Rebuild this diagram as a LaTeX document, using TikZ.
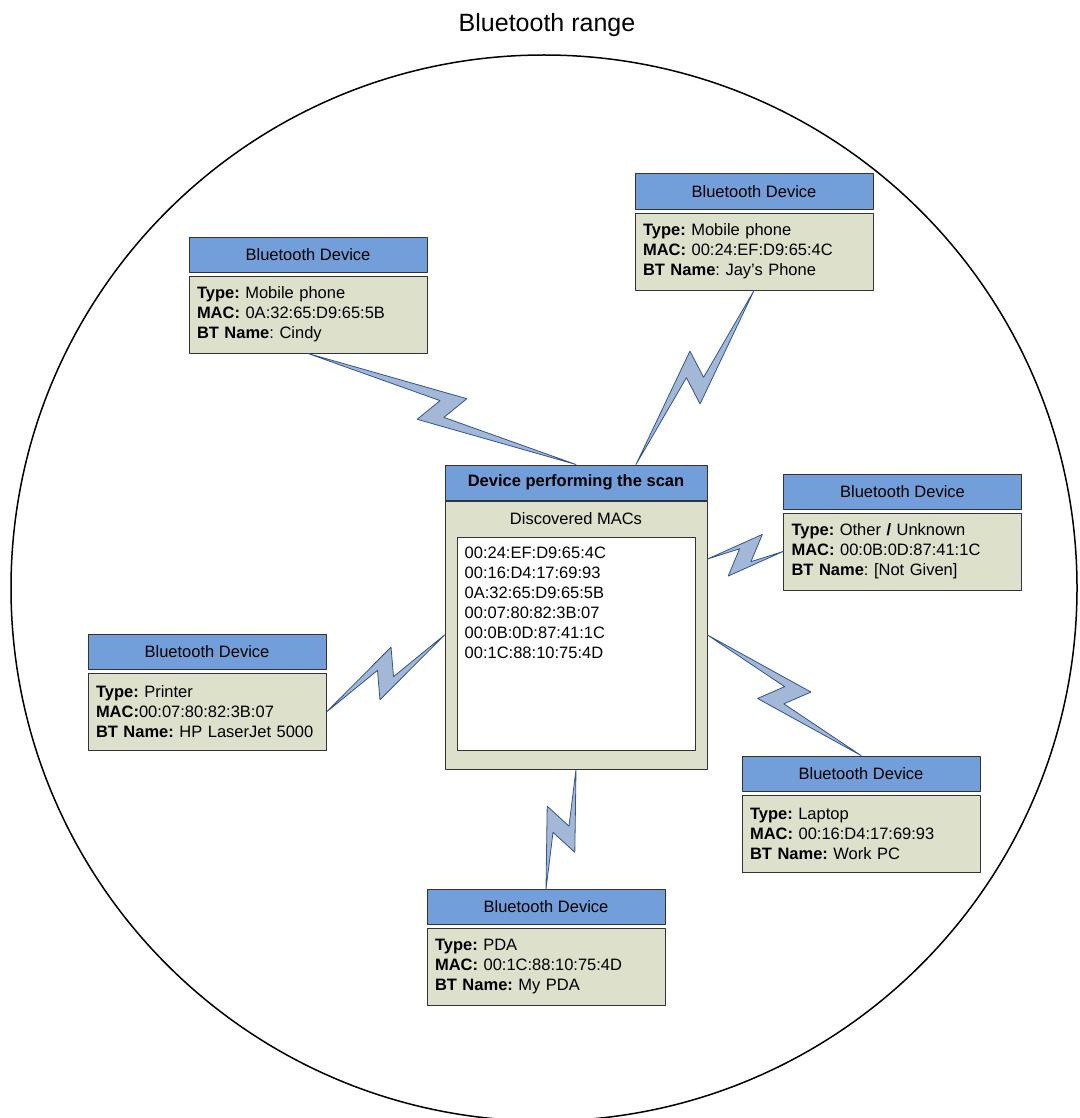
\documentclass[tikz,border=0pt]{standalone}
\usepackage{fontspec}
\setmainfont{Liberation Sans}
\usetikzlibrary{calc,positioning}
\definecolor{headblue}{RGB}{114,159,218}
\definecolor{bodysand}{RGB}{221,225,203}
\definecolor{boltfill}{RGB}{163,184,215}
\definecolor{boltline}{RGB}{47,84,145}
\frenchspacing
\newcommand{\btlink}[2]{%
    \draw[boltlink] (#1)
        -- ($(#1)!.5!(#2)!26.9pt!45:(#2)$)
        -- ($(#1)!.5!(#2)!8.6pt!-54.5:(#2)$)
        -- (#2)
        -- ($(#1)!.5!(#2)!26.9pt!225:(#2)$)
        -- ($(#1)!.5!(#2)!8.6pt!125.5:(#2)$)
        -- cycle;}

\begin{document}
\begin{tikzpicture}[x=1pt,y=-1pt,line cap=round,line join=round,
    txt/.style={font=\fontsize{16.5}{20}\selectfont},
    head/.style={txt,draw=black!80,line width=1pt,fill=headblue,minimum width=238pt,minimum height=35pt,inner sep=0pt},
    info/.style={txt,draw=black!80,line width=1pt,fill=bodysand,text width=222pt,minimum height=77pt,inner xsep=8pt,align=left},
    boltlink/.style={draw=boltline,fill=boltfill,line width=.8pt}]
    \def\gap{3pt}
    \useasboundingbox (0,0) rectangle (1079,1118);
    % range
    \node[font=\fontsize{25}{30}\selectfont] (title) at (547,25.5) {Bluetooth range};
    \draw[line width=1.5pt] (544,588) circle[radius=533pt];
    % scanner
    \node[head,minimum width=262pt,font=\fontsize{16.5}{20}\selectfont\bfseries] (scanhead) at (576,482.5) {Device performing the scan};
    \node[draw=black!80,line width=1pt,fill=bodysand,minimum width=262pt,minimum height=268pt,below=0pt of scanhead] (scan) {};
    \node[txt] (found) at (576,518.5) {Discovered MACs};
    \node[draw=black!80,line width=1pt,fill=white,minimum width=238pt,minimum height=213pt] (maclist) at (576,643.5) {};
    \node[txt,anchor=north west,align=left,inner xsep=8pt,inner ysep=10.5pt] (maclines) at (maclist.north west)
        {00:24:EF:D9:65:4C\\ 00:16:D4:17:69:93\\ 0A:32:65:D9:65:5B\\ 00:07:80:82:3B:07\\ 00:0B:0D:87:41:1C\\ 00:1C:88:10:75:4D};
    % devices
    \node[head] (cindyhead) at (308,254.5) {Bluetooth Device};
    \node[info,below=\gap of cindyhead] (cindy) {\textbf{Type:} Mobile phone\\ \textbf{MAC:} 0A:32:65:D9:65:5B\\ \textbf{BT Name}: Cindy};
    \node[head] (jayhead) at (754,191.5) {Bluetooth Device};
    \node[info,below=\gap of jayhead] (jay) {\textbf{Type:} Mobile phone\\ \textbf{MAC:} 00:24:EF:D9:65:4C\\ \textbf{BT Name}: Jay’s Phone};
    \node[head] (otherhead) at (902.5,491.5) {Bluetooth Device};
    \node[info,below=\gap of otherhead] (other) {\textbf{Type:} Other \textbf{/} Unknown\\ \textbf{MAC:} 00:0B:0D:87:41:1C\\ \textbf{BT Name}: [Not Given]};
    \node[head] (printerhead) at (207,652) {Bluetooth Device};
    \node[info,below=\gap of printerhead] (printer) {\textbf{Type:} Printer\\ \textbf{MAC:}00:07:80:82:3B:07\\ \textbf{BT Name:} HP LaserJet 5000};
    \node[head] (laptophead) at (861,773.5) {Bluetooth Device};
    \node[info,below=\gap of laptophead] (laptop) {\textbf{Type:} Laptop\\ \textbf{MAC:} 00:16:D4:17:69:93\\ \textbf{BT Name:} Work PC};
    \node[head] (pdahead) at (546,907) {Bluetooth Device};
    \node[info,below=\gap of pdahead] (pda) {\textbf{Type:} PDA\\ \textbf{MAC:} 00:1C:88:10:75:4D\\ \textbf{BT Name:} My PDA};
    % links
    \coordinate (jayport) at ([xshift=60pt]scanhead.north);
    \coordinate (otherport) at ([yshift=76pt]scan.east);
    \btlink{cindy.south}{scanhead.north}
    \btlink{jay.south}{jayport}
    \btlink{otherport}{other.west}
    \btlink{scan.west}{printer.east}
    \btlink{scan.east}{laptophead.north}
    \btlink{scan.south}{pdahead.north}
\end{tikzpicture}
\end{document}
